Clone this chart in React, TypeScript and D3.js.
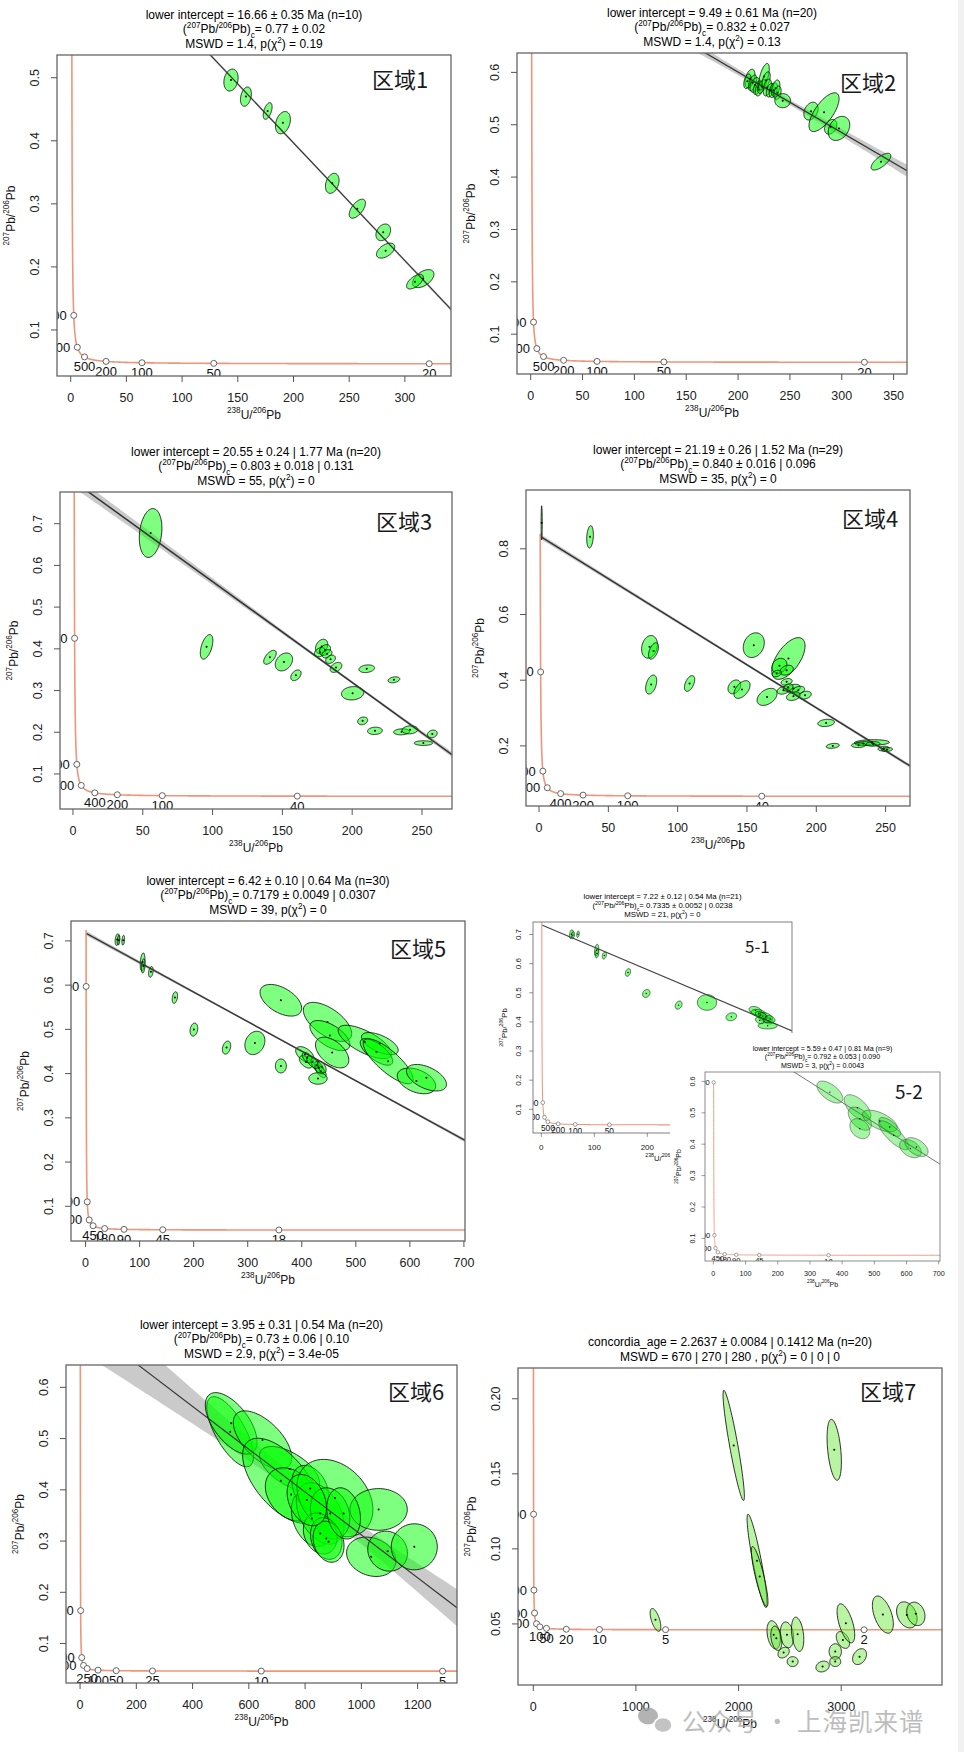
import * as d3 from "d3";

// Tera-Wasserburg plots, 7 regions + 2 insets
type Ell = [number, number, number, number, number]; // x, y, sx, sy, rho
type Seg = [string, number]; // text, level (1 sup, -1 sub)

// decay constants (1/Ma) and 238U/235U
const L238 = 1.55125e-4;
const L235 = 9.8485e-4;
const U85 = 137.818;

// concordia tick ages (Ma)
const agesA = [2000, 1000, 500, 200, 100, 50, 20];
const agesB = [4000, 2000, 1000, 400, 200, 100, 40];
const agesC = [4500, 1800, 900, 450, 180, 90, 45, 18];
const agesD = [2500, 1000, 500, 250, 100, 50, 25, 10, 5];
const agesE = [2000, 1000, 500, 200, 100, 50, 20, 10, 5, 2];

// axis ticks
const ticks50to300 = [0, 50, 100, 150, 200, 250, 300];
const ticks50to350 = [0, 50, 100, 150, 200, 250, 300, 350];
const ticks50to250 = [0, 50, 100, 150, 200, 250];
const ticks100to700 = [0, 100, 200, 300, 400, 500, 600, 700];
const ticks100to400 = [0, 100, 200, 300, 400];
const ticks200to1200 = [0, 200, 400, 600, 800, 1000, 1200];
const ticks1000 = [0, 1000, 2000, 3000];
const yTicks5 = [0.1, 0.2, 0.3, 0.4, 0.5];
const yTicks6 = [0.1, 0.2, 0.3, 0.4, 0.5, 0.6];
const yTicks7 = [0.1, 0.2, 0.3, 0.4, 0.5, 0.6, 0.7];
const yTicksEven = [0.2, 0.4, 0.6, 0.8];
const yTicksSmall = [0.05, 0.1, 0.15, 0.2];

// ellipses
const region1Ellipses: Ell[] = [
  [143.9, 0.4963, 6.4, 0.0174, 0.2],
  [157.3, 0.47, 4.9, 0.0153, 0.3],
  [176.8, 0.4472, 4.0, 0.0132, 0.5],
  [190.5, 0.4287, 6.7, 0.0177, 0.3],
  [234.8, 0.3325, 6.1, 0.0159, 0.3],
  [257.3, 0.2923, 7.3, 0.0151, 0.6],
  [280.6, 0.2548, 6.6, 0.0132, 0.3],
  [282.7, 0.2258, 8.2, 0.0119, 0.5],
  [316.5, 0.1814, 9.6, 0.0143, 0.5],
  [309.0, 0.1766, 7.5, 0.0116, 0.6],
];

const region2Ellipses: Ell[] = [
  [211.5, 0.588, 4.8, 0.018, 0.4],
  [209, 0.583, 3.5, 0.014, 0.4],
  [214, 0.58, 4.0, 0.015, 0.5],
  [216.3, 0.576, 4.8, 0.014, 0.4],
  [219, 0.571, 4.5, 0.013, 0.5],
  [220, 0.567, 3.5, 0.012, 0.3],
  [225, 0.592, 5.1, 0.025, 0.6],
  [222.8, 0.573, 4.0, 0.013, 0.5],
  [227, 0.585, 4.0, 0.016, 0.5],
  [228.2, 0.571, 4.0, 0.016, 0.4],
  [231, 0.566, 3.8, 0.013, 0.4],
  [234, 0.566, 4.0, 0.014, 0.4],
  [236.3, 0.5695, 4.0, 0.016, 0.4],
  [238, 0.561, 3.5, 0.013, 0.3],
  [243, 0.546, 7.6, 0.0134, 0],
  [270.3, 0.526, 6.9, 0.017, 0.3],
  [282.9, 0.524, 14.5, 0.037, 0.7],
  [289.3, 0.496, 5.9, 0.014, 0.3],
  [297.3, 0.493, 10.4, 0.023, 0.3],
  [337.8, 0.4295, 9.5, 0.016, 0.7],
];

const region3Ellipses: Ell[] = [
  [55.6, 0.6777, 8.1, 0.0586, 0.2],
  [95.7, 0.4048, 4.5, 0.0295, 0.5],
  [141.1, 0.3797, 4.5, 0.0168, 0.6],
  [151.1, 0.3686, 6.2, 0.0215, 0.3],
  [159.7, 0.3366, 3.7, 0.0128, 0.4],
  [178.1, 0.4058, 4.4, 0.0172, 0.3],
  [177, 0.392, 4.0, 0.011, 0.3],
  [180.5, 0.397, 4.0, 0.013, 0.3],
  [182, 0.388, 3.5, 0.01, 0.3],
  [184.5, 0.375, 3.5, 0.01, 0.3],
  [188.4, 0.3555, 4.2, 0.012, 0.4],
  [210.4, 0.3523, 5.6, 0.0092, 0.2],
  [200.3, 0.2935, 8.0, 0.016, 0.1],
  [229.9, 0.3257, 4.2, 0.0072, 0.3],
  [207.5, 0.2273, 3.6, 0.0092, 0.2],
  [216.3, 0.2034, 5.3, 0.0088, 0.1],
  [235.4, 0.201, 5.7, 0.0072, 0.1],
  [241.4, 0.2058, 5.7, 0.0096, 0.1],
  [257.4, 0.196, 3.5, 0.0092, 0.2],
  [251, 0.174, 6.6, 0.0056, 0],
];

const region4Ellipses: Ell[] = [
  [1.9, 0.879, 0.4, 0.052, 0],
  [36.8, 0.8365, 2.4, 0.034, 0.2],
  [79.7, 0.5015, 5.7, 0.0345, 0.2],
  [82.6, 0.489, 3.6, 0.025, 0.5],
  [80.9, 0.3868, 4.0, 0.029, 0.4],
  [108.6, 0.39, 3.7, 0.024, 0.5],
  [154.9, 0.5066, 7.6, 0.0376, 0.2],
  [140.9, 0.3797, 4.6, 0.021, 0.3],
  [146.4, 0.3716, 5.8, 0.027, 0.5],
  [164.5, 0.3492, 7.2, 0.026, 0.4],
  [179.9, 0.466, 12.0, 0.0635, 0.6],
  [173.4, 0.4437, 5.4, 0.0228, 0.2],
  [178.6, 0.4305, 4.8, 0.015, 0.3],
  [171.5, 0.4203, 3.3, 0.01, 0.3],
  [178.6, 0.395, 4.0, 0.01, 0.3],
  [176.3, 0.3695, 4.5, 0.012, 0.3],
  [183.5, 0.3746, 5.0, 0.013, 0.3],
  [187.1, 0.3695, 4.5, 0.012, 0.3],
  [183.5, 0.3513, 5.0, 0.013, 0.3],
  [191.9, 0.3543, 4.5, 0.012, 0.3],
  [179.7, 0.3777, 3.5, 0.011, 0.3],
  [207.1, 0.27, 6.0, 0.011, 0.2],
  [211.9, 0.2, 4.7, 0.0076, 0.3],
  [240.1, 0.2102, 12.6, 0.0086, 0.1],
  [234, 0.207, 6, 0.006, 0.1],
  [230.5, 0.202, 5.2, 0.007, 0.1],
  [248.6, 0.1918, 4, 0.007, 0.2],
  [251, 0.189, 4, 0.006, 0.2],
  [241, 0.206, 5, 0.007, 0.1],
];

const region5Ellipses: Ell[] = [
  [58.6, 0.703, 4.0, 0.0132, 0.3],
  [61, 0.7015, 2.5, 0.011, 0.3],
  [69.7, 0.7015, 2.5, 0.011, 0.3],
  [105.4, 0.6525, 4.3, 0.0204, 0.3],
  [106.7, 0.6435, 3.5, 0.016, 0.3],
  [120.8, 0.63, 4.3, 0.012, 0.3],
  [165.2, 0.5719, 4.9, 0.0132, 0.3],
  [200.4, 0.4995, 7.1, 0.0147, 0.2],
  [260.8, 0.4588, 7.7, 0.0147, 0.3],
  [313.2, 0.4693, 18.5, 0.0264, 0.2],
  [361.3, 0.5658, 38.5, 0.0358, -0.5],
  [361.3, 0.4173, 10.2, 0.0158, 0],
  [405.7, 0.443, 17, 0.018, -0.5],
  [407.5, 0.4264, 12, 0.014, -0.5],
  [410, 0.436, 9, 0.012, -0.5],
  [427, 0.419, 10, 0.016, -0.6],
  [432, 0.413, 9, 0.014, -0.5],
  [435, 0.405, 10, 0.014, -0.6],
  [430, 0.389, 17, 0.013, 0],
  [420, 0.426, 11, 0.014, -0.6],
  [437, 0.415, 8, 0.013, -0.5],
  [447.6, 0.5169, 44.7, 0.0441, -0.6],
  [452, 0.486, 37, 0.034, -0.6],
  [456.2, 0.4476, 30.8, 0.0347, -0.5],
  [516.6, 0.4716, 49.3, 0.0377, -0.7],
  [544.4, 0.4678, 34, 0.025, -0.6],
  [538.2, 0.449, 30, 0.03, -0.7],
  [559.8, 0.4279, 46.2, 0.0509, -0.8],
  [612.2, 0.3834, 35.5, 0.029, -0.4],
  [630.7, 0.3907, 37, 0.03, -0.5],
];

const inset51Ellipses: Ell[] = [
  [56.6, 0.7011, 3.5, 0.0154, 0.3],
  [59.7, 0.698, 3, 0.012, 0.3],
  [69.2, 0.7011, 2.5, 0.011, 0.3],
  [104.4, 0.6463, 4, 0.02, 0.3],
  [105, 0.6349, 3.5, 0.015, 0.3],
  [118.9, 0.628, 4, 0.012, 0.3],
  [163.5, 0.5697, 5, 0.013, 0.3],
  [198.1, 0.4977, 7, 0.0137, 0.2],
  [259.1, 0.4577, 6.5, 0.014, 0.3],
  [312.6, 0.4669, 18.2, 0.0269, 0],
  [358.5, 0.4177, 10, 0.0137, 0.2],
  [404, 0.439, 12, 0.014, -0.3],
  [410, 0.43, 14, 0.013, -0.3],
  [414, 0.424, 10, 0.012, -0.4],
  [420, 0.412, 10, 0.012, -0.4],
  [424, 0.418, 12, 0.014, -0.4],
  [428, 0.405, 9, 0.012, -0.3],
  [427, 0.387, 18, 0.011, 0],
  [418, 0.42, 8, 0.012, -0.4],
  [432, 0.41, 9, 0.012, -0.4],
  [412, 0.405, 8, 0.011, -0.3],
];

const inset52Ellipses: Ell[] = [
  [362, 0.566, 40.3, 0.035, -0.6],
  [447.8, 0.5163, 41.4, 0.0413, -0.6],
  [455, 0.4814, 36, 0.037, -0.5],
  [455, 0.4496, 31, 0.0318, -0.3],
  [517, 0.474, 54, 0.0344, -0.6],
  [548, 0.455, 34, 0.03, -0.7],
  [560.5, 0.4284, 46.5, 0.046, -0.8],
  [612.2, 0.386, 33.6, 0.029, -0.4],
  [631, 0.391, 36, 0.03, -0.5],
];

const region6Ellipses: Ell[] = [
  [533.6, 0.5134, 83, 0.0684, -0.7],
  [537.2, 0.5297, 92, 0.06, -0.6],
  [648.6, 0.4971, 103.8, 0.057, -0.6],
  [744.7, 0.4405, 106.7, 0.044, -0.6],
  [713.9, 0.4177, 136, 0.083, -0.6],
  [750.6, 0.391, 92, 0.052, -0.3],
  [824.2, 0.3441, 73, 0.055, -0.3],
  [818.2, 0.4027, 65, 0.045, -0.3],
  [853.8, 0.3539, 85, 0.06, -0.4],
  [906, 0.3839, 135, 0.0755, -0.3],
  [889, 0.354, 70, 0.05, -0.2],
  [853.8, 0.3148, 60, 0.04, -0.2],
  [875.1, 0.3051, 56, 0.0407, -0.2],
  [883.4, 0.2986, 55, 0.04, -0.2],
  [1061.3, 0.3617, 102, 0.0407, 0],
  [1035.2, 0.2693, 87.7, 0.0384, -0.2],
  [1093.3, 0.2803, 70.6, 0.039, -0.1],
  [1188.2, 0.2888, 81.8, 0.0449, 0],
  [936.8, 0.354, 60, 0.05, -0.2],
  [806, 0.38, 70, 0.05, -0.3],
];

const region7Ellipses: Ell[] = [
  [1952.6, 0.1689, 104, 0.0367, -0.92],
  [2932, 0.166, 69.7, 0.0203, -0.4],
  [2179.7, 0.092, 97, 0.0311, -0.9],
  [2205.6, 0.0816, 81, 0.02, -0.85],
  [1190.4, 0.0527, 52, 0.0076, -0.6],
  [2342, 0.0427, 65, 0.0094, -0.3],
  [2368, 0.0404, 53.5, 0.0081, -0.3],
  [2471.6, 0.0427, 65, 0.0086, -0.2],
  [2575.5, 0.0431, 60, 0.0114, -0.3],
  [2439, 0.0309, 55, 0.0036, 0.3],
  [2527, 0.0249, 53.5, 0.0033, 0],
  [2818.6, 0.0216, 65, 0.0036, 0.2],
  [2942, 0.0316, 60, 0.0052, 0],
  [2942, 0.0249, 53.5, 0.0033, 0],
  [3016.5, 0.0393, 65, 0.0056, -0.4],
  [3045.7, 0.0504, 86, 0.013, -0.6],
  [3178.7, 0.0282, 68, 0.0053, 0.3],
  [3405.8, 0.0562, 102, 0.0124, -0.5],
  [3639.3, 0.056, 100, 0.0087, -0.3],
  [3726.9, 0.0567, 89, 0.0078, -0.2],
];

// title values
const interceptTexts = [
  "lower intercept = 16.66 ± 0.35 Ma (n=10)",
  "lower intercept = 9.49 ± 0.61 Ma (n=20)",
  "lower intercept = 20.55 ± 0.24 | 1.77 Ma (n=20)",
  "lower intercept = 21.19 ± 0.26 | 1.52 Ma (n=29)",
  "lower intercept = 6.42 ± 0.10 | 0.64 Ma (n=30)",
  "lower intercept = 7.22 ± 0.12 | 0.54 Ma (n=21)",
  "lower intercept = 5.59 ± 0.47 | 0.81 Ma (n=9)",
  "lower intercept = 3.95 ± 0.31 | 0.54 Ma (n=20)",
];
const commonPbTexts = [
  "0.77 ± 0.02",
  "0.832 ± 0.027",
  "0.803 ± 0.018 | 0.131",
  "0.840 ± 0.016 | 0.096",
  "0.7179 ± 0.0049 | 0.0307",
  "0.7335 ± 0.0052 | 0.0238",
  "0.792 ± 0.053 | 0.090",
  "0.73 ± 0.06 | 0.10",
];
const mswdTexts = ["1.4", "1.4", "55", "35", "39", "21", "3", "2.9"];
const pTexts = ["0.19", "0.13", "0", "0", "0", "0", "0.0043", "3.4e-05"];
const concordiaTitle = "concordia_age = 2.2637 ± 0.0084 | 0.1412 Ma (n=20)";
const concordiaMswd = "MSWD = 670 | 270 | 280 , p(χ";
const concordiaP = ") = 0 | 0 | 0";

// discordia lines: intercept at x=0 and slope
const lineIntercepts = [0.77, 0.832, 0.803, 0.84, 0.7179, 0.7335, 0.792, 0.73];
const lineSlopes = [-0.001867, -0.001157, -0.002418, -0.00262, -0.000668, -0.00077, -0.000647, -0.000418];

const regionLabels = ["区域1", "区域2", "区域3", "区域4", "区域5", "5-1", "5-2", "区域6", "区域7"];

function tw(t: number): [number, number] {
  const e8 = Math.expm1(L238 * t);
  const e5 = Math.expm1(L235 * t);
  return [1 / e8, e5 / e8 / U85];
}

const titleFor = (i: number): Seg[][] => [
  [[interceptTexts[i], 0]],
  [["(", 0], ["207", 1], ["Pb/", 0], ["206", 1], ["Pb)", 0], ["c", -1], ["= " + commonPbTexts[i], 0]],
  [["MSWD = " + mswdTexts[i] + ", p(χ", 0], ["2", 1], [") = " + pTexts[i], 0]],
];

const xLab: Seg[] = [["238", 1], ["U/", 0], ["206", 1], ["Pb", 0]];
const yLab: Seg[] = [["207", 1], ["Pb/", 0], ["206", 1], ["Pb", 0]];

function rich(segs: Seg[], size: number) {
  let cur = 0;
  return segs.map(([txt, lv], i) => {
    const off = lv * size * 0.38;
    const dy = cur - off;
    cur = off;
    return (
      <tspan key={i} dy={dy} fontSize={lv ? size * 0.68 : size}>
        {txt}
      </tspan>
    );
  });
}

interface PanelCfg {
  id: string;
  box: [number, number, number, number];
  xDomain: [number, number];
  yDomain: [number, number];
  xTicks: number[];
  yTicks: number[];
  yFmt: (v: number) => string;
  ages: number[];
  nLeft: number;
  tMax: number;
  ellipses: Ell[];
  fill: string;
  stroke: string;
  line?: { y0: number; slope: number; color: string; width: number };
  band?: { hmin: number; xc: number; g: number };
  title: Seg[][];
  label: string;
  labelPos: [number, number];
  labelSize: number;
  s: number;
  ts: number;
  bg?: [number, number, number, number];
}

const fmt1 = d3.format(".1f");
const fmt2 = d3.format(".2f");
const green = "rgba(0,255,0,0.5)";

const panels: PanelCfg[] = [
  {
    id: "p1", box: [57, 55, 451, 376], xDomain: [-12.3, 341.4], yDomain: [0.027, 0.536],
    xTicks: ticks50to300, yTicks: yTicks5, yFmt: fmt1, ages: agesA, nLeft: 2, tMax: 5000,
    ellipses: region1Ellipses, fill: green, stroke: "#000",
    line: { y0: lineIntercepts[0], slope: lineSlopes[0], color: "#333", width: 1.1 },
    band: { hmin: 0.002, xc: 230, g: 1.5e-5 },
    title: titleFor(0), label: regionLabels[0], labelPos: [372, 88], labelSize: 22, s: 1, ts: 1,
  },
  {
    id: "p2", box: [517, 53, 907, 374], xDomain: [-13.2, 362.9], yDomain: [0.024, 0.637],
    xTicks: ticks50to350, yTicks: yTicks6, yFmt: fmt1, ages: agesA, nLeft: 2, tMax: 5000,
    ellipses: region2Ellipses, fill: green, stroke: "#000",
    line: { y0: lineIntercepts[1], slope: lineSlopes[1], color: "#333", width: 1.2 },
    band: { hmin: 0.005, xc: 240, g: 8.4e-5 },
    title: titleFor(1), label: regionLabels[1], labelPos: [840, 91], labelSize: 22, s: 1, ts: 1,
  },
  {
    id: "p3", box: [60, 492, 452, 809], xDomain: [-9.3, 271.5], yDomain: [0.016, 0.776],
    xTicks: ticks50to250, yTicks: yTicks7, yFmt: fmt1, ages: agesB, nLeft: 3, tMax: 5000,
    ellipses: region3Ellipses, fill: green, stroke: "#000",
    line: { y0: lineIntercepts[2], slope: lineSlopes[2], color: "#333", width: 1.5 },
    band: { hmin: 0.003, xc: 200, g: 7.4e-5 },
    title: titleFor(2), label: regionLabels[2], labelPos: [376, 530], labelSize: 22, s: 1, ts: 1,
  },
  {
    id: "p4", box: [526, 490, 910, 806], xDomain: [-9.4, 267.6], yDomain: [0.017, 0.979],
    xTicks: ticks50to250, yTicks: yTicksEven, yFmt: fmt1, ages: agesB, nLeft: 3, tMax: 5000,
    ellipses: region4Ellipses, fill: green, stroke: "#000",
    line: { y0: lineIntercepts[3], slope: lineSlopes[3], color: "#333", width: 1.5 },
    band: { hmin: 0.004, xc: 170, g: 3.8e-5 },
    title: titleFor(3), label: regionLabels[3], labelPos: [842, 527], labelSize: 22, s: 1, ts: 1,
  },
  {
    id: "p5", box: [71, 921, 465, 1241], xDomain: [-27, 702], yDomain: [0.0215, 0.745],
    xTicks: ticks100to700, yTicks: yTicks7, yFmt: fmt1, ages: agesC, nLeft: 3, tMax: 4780,
    ellipses: region5Ellipses, fill: green, stroke: "#000",
    line: { y0: lineIntercepts[4], slope: lineSlopes[4], color: "#3a3a3a", width: 1.5 },
    band: { hmin: 0.0015, xc: 400, g: 1.2e-5 },
    title: titleFor(4), label: regionLabels[4], labelPos: [390, 957], labelSize: 22, s: 1, ts: 1,
  },
  {
    id: "p51", box: [533, 922, 792, 1133], xDomain: [-15.7, 473], yDomain: [0.0187, 0.743],
    xTicks: ticks100to400, yTicks: yTicks7, yFmt: fmt1, ages: agesA, nLeft: 2, tMax: 4900,
    ellipses: inset51Ellipses, fill: green, stroke: "#000",
    line: { y0: lineIntercepts[5], slope: lineSlopes[5], color: "#444", width: 1.2 },
    title: titleFor(5), label: regionLabels[5], labelPos: [745, 953], labelSize: 17, s: 0.64, ts: 0.65,
  },
  {
    id: "p52", box: [705, 1072, 940, 1261], xDomain: [-26, 704], yDomain: [0.028, 0.63],
    xTicks: ticks100to700, yTicks: yTicks6, yFmt: fmt1, ages: agesC, nLeft: 3, tMax: 4500,
    ellipses: inset52Ellipses, fill: "rgba(0,225,0,0.35)", stroke: "#444",
    line: { y0: lineIntercepts[6], slope: lineSlopes[6], color: "#666", width: 0.9 },
    title: titleFor(6), label: regionLabels[6], labelPos: [895, 1099], labelSize: 19, s: 0.58, ts: 0.59,
    bg: [670, 1033, 958, 1300],
  },
  {
    id: "p6", box: [66, 1365, 457, 1683], xDomain: [-50, 1340], yDomain: [0.023, 0.6436],
    xTicks: ticks200to1200, yTicks: yTicks6, yFmt: fmt1, ages: agesD, nLeft: 3, tMax: 5000,
    ellipses: region6Ellipses, fill: green, stroke: "#000",
    line: { y0: lineIntercepts[7], slope: lineSlopes[7], color: "#333", width: 1.1 },
    band: { hmin: 0.015, xc: 850, g: 6.7e-5 },
    title: titleFor(7), label: regionLabels[7], labelPos: [388, 1400], labelSize: 22, s: 1, ts: 1,
  },
  {
    id: "p7", box: [518, 1368, 942, 1685], xDomain: [-149, 3982], yDomain: [0.0093, 0.2205],
    xTicks: ticks1000, yTicks: yTicksSmall, yFmt: fmt2, ages: agesE, nLeft: 4, tMax: 5000,
    ellipses: region7Ellipses, fill: "rgba(100,230,50,0.45)", stroke: "#000",
    title: [
      [[concordiaTitle, 0]],
      [[concordiaMswd, 0], ["2", 1], [concordiaP, 0]],
    ],
    label: regionLabels[8], labelPos: [860, 1400], labelSize: 22, s: 1, ts: 1,
  },
];

function Panel({ p }: { p: PanelCfg }) {
  const [l, t, r, b] = p.box;
  const s = p.s;
  const x = d3.scaleLinear().domain(p.xDomain).range([l, r]);
  const y = d3.scaleLinear().domain(p.yDomain).range([b, t]);
  const cid = "clip-" + p.id;

  // concordia curve
  const tLo = Math.log1p(1 / (p.xDomain[1] * 1.1)) / L238;
  const ts = d3.range(0, 601).map((i) => tLo * Math.pow(p.tMax / tLo, i / 600));
  const conc = d3
    .line<number>()
    .x((a) => x(tw(a)[0]))
    .y((a) => y(tw(a)[1]))(ts);

  const ellPath = (e: Ell) => {
    const [cx, cy, a, bb, rho] = e;
    const k = Math.sqrt(1 - rho * rho);
    const pts: [number, number][] = d3.range(0, 80).map((i) => {
      const th = (i / 80) * 2 * Math.PI;
      return [x(cx + a * Math.cos(th)), y(cy + bb * (rho * Math.cos(th) + k * Math.sin(th)))];
    });
    return d3.line().curve(d3.curveLinearClosed)(pts) ?? "";
  };

  let bandPath = "";
  let linePath = "";
  if (p.line) {
    const { y0, slope } = p.line;
    const x0 = 2;
    const x1 = p.xDomain[1];
    linePath = d3.line()([
      [x(x0), y(y0 + slope * x0)],
      [x(x1), y(y0 + slope * x1)],
    ]) ?? "";
    if (p.band) {
      const { hmin, xc, g } = p.band;
      const h = (v: number) => Math.sqrt(hmin * hmin + (g * (v - xc)) ** 2);
      const xs = d3.range(0, 121).map((i) => x0 + ((x1 - x0) * i) / 120);
      const up: [number, number][] = xs.map((v) => [x(v), y(y0 + slope * v + h(v))]);
      const lo: [number, number][] = xs.map((v) => [x(v), y(y0 + slope * v - h(v))]).reverse() as [number, number][];
      bandPath = d3.line().curve(d3.curveLinearClosed)([...up, ...lo]) ?? "";
    }
  }

  const tickFont = 12.5 * s;
  const titleFont = 12 * p.ts;
  const nLines = p.title.length;
  const titleBase = nLines === 3 ? [36, 22, 7] : [22, 7];

  return (
    <g>
      {p.bg && <rect x={p.bg[0]} y={p.bg[1]} width={p.bg[2] - p.bg[0]} height={p.bg[3] - p.bg[1]} fill="#fff" />}
      <defs>
        <clipPath id={cid}>
          <rect x={l} y={t} width={r - l} height={b - t} />
        </clipPath>
      </defs>
      <g clipPath={`url(#${cid})`}>
        {bandPath && <path d={bandPath} fill="#bdbdbd" fillOpacity={0.8} />}
        <path d={conc ?? ""} fill="none" stroke="#f0957a" strokeWidth={1.6 * s} />
        {p.ellipses.map((e, i) => (
          <path key={i} d={ellPath(e)} fill={p.fill} stroke={p.stroke} strokeWidth={0.8 * Math.max(s, 0.7)} />
        ))}
        {linePath && <path d={linePath} stroke={p.line!.color} strokeWidth={p.line!.width} fill="none" />}
        {p.ellipses.map((e, i) => (
          <circle key={"d" + i} cx={x(e[0])} cy={y(e[1])} r={1 * Math.max(s, 0.7)} fill="#000" />
        ))}
        {p.ages.map((a, i) => {
          const [ax, ay] = tw(a);
          const px = x(ax);
          const py = y(ay);
          const left = i < p.nLeft;
          return (
            <g key={"a" + a}>
              <circle cx={px} cy={py} r={3 * s} fill="#fff" stroke="#555" strokeWidth={0.9 * s} />
              <text
                x={left ? px - 7 * s : px}
                y={left ? py : py + 10 * s}
                textAnchor={left ? "end" : "middle"}
                dominantBaseline="central"
                fontSize={13 * s}
                fill="#111"
              >
                {a}
              </text>
            </g>
          );
        })}
      </g>
      <rect x={l} y={t} width={r - l} height={b - t} fill="none" stroke="#666" strokeWidth={1.3 * s} />
      {p.xTicks.map((v) => (
        <g key={"x" + v}>
          <line x1={x(v)} x2={x(v)} y1={b} y2={b + 6 * s} stroke="#555" strokeWidth={1 * s} />
          <text x={x(v)} y={b + 22 * s} textAnchor="middle" dominantBaseline="central" fontSize={tickFont} fill="#222">
            {v}
          </text>
        </g>
      ))}
      {p.yTicks.map((v) => (
        <g key={"y" + v}>
          <line x1={l} x2={l - 6 * s} y1={y(v)} y2={y(v)} stroke="#555" strokeWidth={1 * s} />
          <text
            transform={`translate(${l - 22 * s},${y(v)}) rotate(-90)`}
            textAnchor="middle"
            dominantBaseline="central"
            fontSize={tickFont}
            fill="#222"
          >
            {p.yFmt(v)}
          </text>
        </g>
      ))}
      <text x={(l + r) / 2} y={b + 39 * s} textAnchor="middle" dominantBaseline="central" fill="#111">
        {rich(xLab, 12 * s)}
      </text>
      <text
        transform={`translate(${l - 46 * s},${(t + b) / 2}) rotate(-90)`}
        textAnchor="middle"
        dominantBaseline="central"
        fill="#111"
      >
        {rich(yLab, 12 * s)}
      </text>
      {p.title.map((segs, i) => (
        <text key={"t" + i} x={(l + r) / 2} y={t - titleBase[i] * p.ts} textAnchor="middle" fill="#000">
          {rich(segs, titleFont)}
        </text>
      ))}
      <text
        x={p.labelPos[0]}
        y={p.labelPos[1]}
        fontSize={p.labelSize}
        fontFamily="'Noto Sans CJK SC', sans-serif"
        fill="#1a1a1a"
      >
        {p.label}
      </text>
    </g>
  );
}

export default function App() {
  return (
    <svg
      width={964}
      height={1752}
      style={{ position: "absolute", left: 0, top: 0, background: "#fff" }}
      fontFamily="'Liberation Sans', Arial, Helvetica, sans-serif"
    >
      <rect x={0} y={0} width={964} height={1752} fill="#fff" />
      <rect x={958} y={0} width={6} height={1752} fill="#f1f1f1" />
      {panels.map((p) => (
        <Panel key={p.id} p={p} />
      ))}
      {/* watermark */}
      <g opacity={0.75}>
        <ellipse cx={648} cy={1716} rx={10} ry={8.5} fill="#9a9a9a" />
        <ellipse cx={663} cy={1725} rx={9} ry={7.5} fill="#b0b0b0" stroke="#fff" strokeWidth={1.5} />
        <text x={682} y={1731} fontSize={24.5} fill="#a8a8a8" fontFamily="'Noto Sans CJK SC', sans-serif" letterSpacing={1}>
          公众号 · 上海凯来谱
        </text>
      </g>
    </svg>
  );
}
